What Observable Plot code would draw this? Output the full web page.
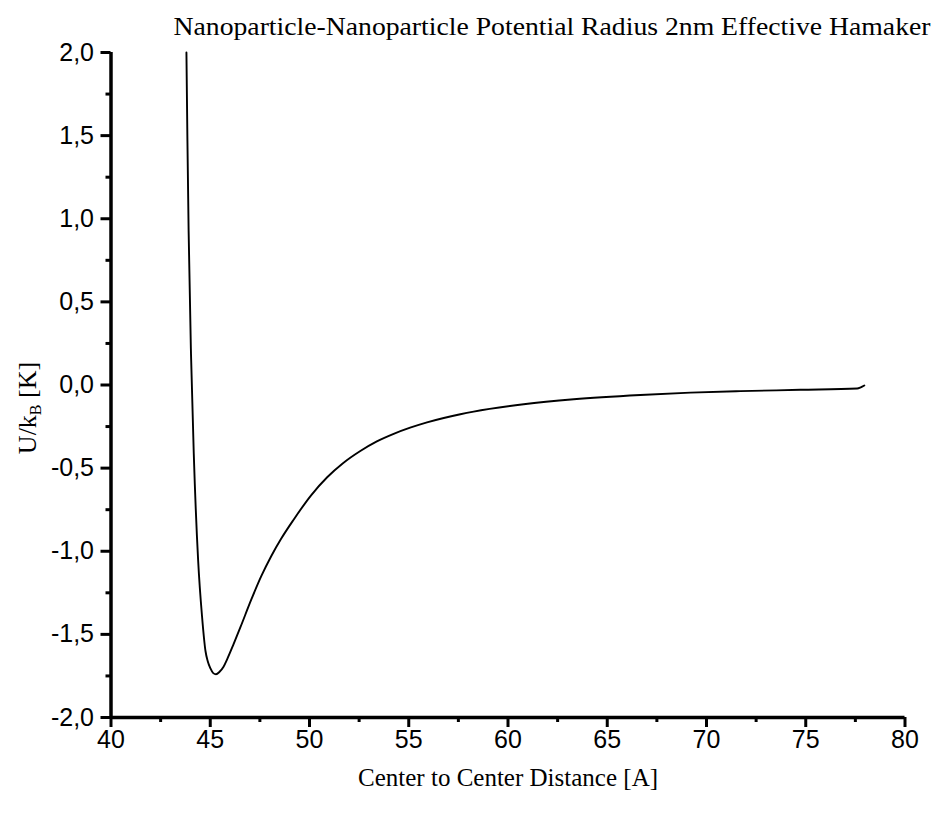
<!DOCTYPE html>
<html>
<head>
<meta charset="utf-8">
<script src="https://cdn.jsdelivr.net/npm/d3@7"></script>
<script src="https://cdn.jsdelivr.net/npm/@observablehq/plot@0.6"></script>
<style>
  html, body { margin: 0; padding: 0; background: #fff; }
  svg { display: block; }
</style>
</head>
<body>
<div id="chart"></div>
<script>
// Data
const distance = [43.80, 43.85, 43.91, 44.03, 44.17, 44.39, 44.59, 44.76, 44.87, 45.01, 45.15, 45.29, 45.47, 45.67, 45.85, 46.17, 46.52, 47.07, 47.57, 48.07, 48.57, 49.20, 50.07, 50.89, 51.67, 52.56, 53.37, 54.24, 55.07, 55.92, 57.60, 58.27, 60.79, 63.31, 66.67, 69.19, 71.71, 74.73, 77.59, 77.77, 77.95];
const potential = [2.0, 1.47, 0.929, 0.188, -0.414, -1.056, -1.397, -1.600, -1.660, -1.705, -1.733, -1.740, -1.725, -1.695, -1.650, -1.560, -1.457, -1.290, -1.150, -1.030, -0.925, -0.810, -0.665, -0.555, -0.472, -0.397, -0.341, -0.294, -0.257, -0.225, -0.176, -0.160, -0.116, -0.086, -0.060, -0.046, -0.037, -0.029, -0.021, -0.014, -0.003];

const xTicks = [40, 45, 50, 55, 60, 65, 70, 75, 80];
const xMinorTicks = [42.5, 47.5, 52.5, 57.5, 62.5, 67.5, 72.5, 77.5];
const yTicks = [-2.0, -1.5, -1.0, -0.5, 0.0, 0.5, 1.0, 1.5, 2.0];
const yMinorTicks = [-1.75, -1.25, -0.75, -0.25, 0.25, 0.75, 1.25, 1.75];

const titleText = "Nanoparticle-Nanoparticle Potential Radius 2nm Effective Hamaker";
const xLabelText = "Center to Center Distance [A]";

const data = distance.map((d, i) => ({x: d, y: potential[i]}));
const fmtY = d => d.toFixed(1).replace(".", ",");
const serif = "'Liberation Serif', 'Times New Roman', serif";

const chart = Plot.plot({
  width: 934,
  height: 822,
  marginLeft: 110.5,
  marginRight: 29.5,
  marginTop: 52,
  marginBottom: 105,
  style: {fontFamily: "'Liberation Sans', Arial, sans-serif", fontSize: "25px", color: "#000", background: "#fff"},
  x: {domain: [40, 80], axis: null},
  y: {domain: [-2, 2], axis: null},
  marks: [
    Plot.axisX({ticks: xMinorTicks, tickSize: 5, strokeWidth: 3, text: null, label: null}),
    Plot.axisX({ticks: xTicks, tickSize: 10, tickPadding: 3, strokeWidth: 3, fontSize: 25, tickFormat: d => String(d), label: null}),
    Plot.axisY({ticks: yMinorTicks, tickSize: 5, strokeWidth: 3, text: null, label: null}),
    Plot.axisY({ticks: yTicks, tickSize: 10, tickPadding: 7, strokeWidth: 3, fontSize: 25, tickFormat: fmtY, label: null}),
    Plot.ruleX([40], {strokeWidth: 3.5}),
    Plot.ruleY([-2], {strokeWidth: 3.5}),
    Plot.line(data, {x: "x", y: "y", curve: "monotone-x", stroke: "#000", strokeWidth: 1.9}),
    Plot.text([titleText], {frameAnchor: "top-right", dx: 25.5, dy: -26, text: d => d, textAnchor: "end", lineAnchor: "middle", fontFamily: serif, fontSize: 26, fill: "#000", className: "title-mark"}),
    Plot.text([xLabelText], {frameAnchor: "bottom", dy: 60, text: d => d, textAnchor: "middle", lineAnchor: "middle", fontFamily: serif, fontSize: 25, fill: "#000", className: "xlabel-mark"})
  ]
});

document.getElementById("chart").appendChild(chart);

const svg = d3.select(chart);
svg.selectAll(".title-mark text").attr("textLength", 757).attr("lengthAdjust", "spacingAndGlyphs");
svg.selectAll(".xlabel-mark text").attr("textLength", 300).attr("lengthAdjust", "spacingAndGlyphs");

// Y axis label with subscript
const yl = svg.append("text")
  .attr("transform", "translate(36,408) rotate(-90)")
  .attr("text-anchor", "middle")
  .attr("font-family", serif)
  .attr("font-size", 26)
  .attr("fill", "#000");
yl.append("tspan").text("U/k");
yl.append("tspan").attr("font-size", 16).attr("dy", 5).text("B");
yl.append("tspan").attr("dy", -5).text(" [K]");
</script>
</body>
</html>
